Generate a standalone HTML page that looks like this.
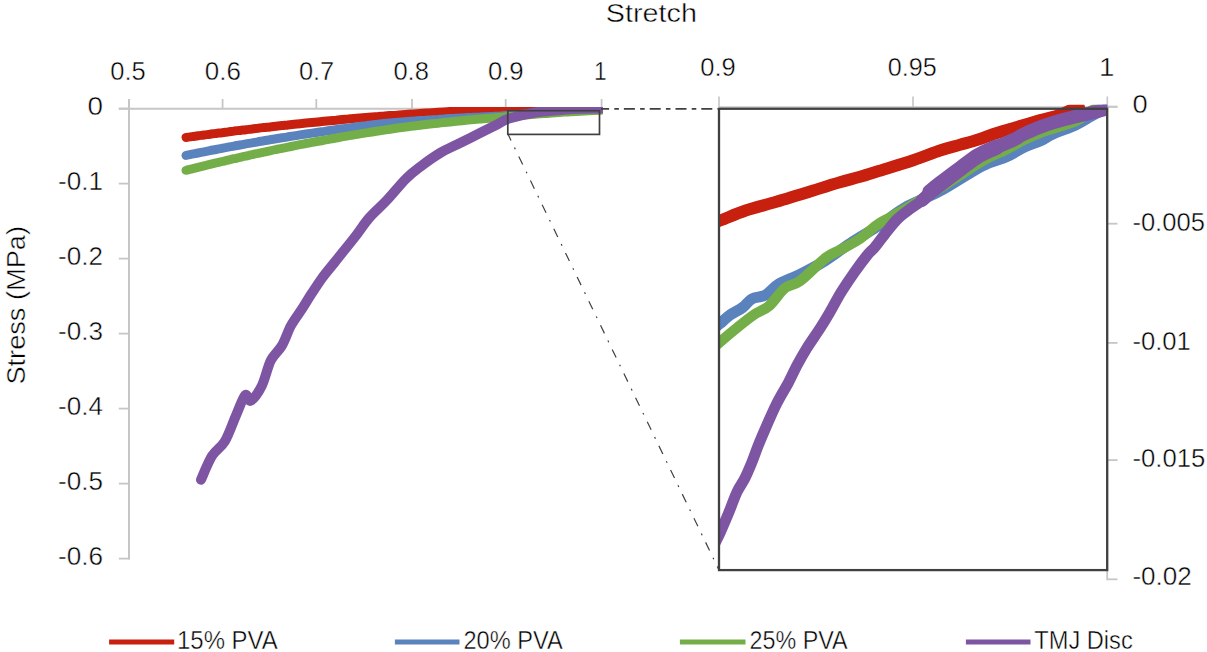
<!DOCTYPE html>
<html><head><meta charset="utf-8"><style>
html,body{margin:0;padding:0;background:#fff;width:1207px;height:652px;overflow:hidden}
svg{display:block}
text{font-family:"Liberation Sans",sans-serif;fill:#000000;stroke:#fff;stroke-width:0.45px}
</style></head><body>
<svg width="1207" height="652" viewBox="0 0 1207 652">
<line x1="118.8" y1="108.7" x2="602.5" y2="108.7" stroke="#C6C6C6" stroke-width="2"/>
<line x1="129.0" y1="99" x2="129.0" y2="559.6" stroke="#C6C6C6" stroke-width="2"/>
<line x1="129.0" y1="99" x2="129.0" y2="108.7" stroke="#C6C6C6" stroke-width="1.8"/>
<line x1="222.6" y1="99" x2="222.6" y2="108.7" stroke="#C6C6C6" stroke-width="1.8"/>
<line x1="316.3" y1="99" x2="316.3" y2="108.7" stroke="#C6C6C6" stroke-width="1.8"/>
<line x1="412.0" y1="99" x2="412.0" y2="108.7" stroke="#C6C6C6" stroke-width="1.8"/>
<line x1="505.7" y1="99" x2="505.7" y2="108.7" stroke="#C6C6C6" stroke-width="1.8"/>
<line x1="601.6" y1="99" x2="601.6" y2="108.7" stroke="#C6C6C6" stroke-width="1.8"/>
<line x1="118.8" y1="108.6" x2="129.0" y2="108.6" stroke="#C6C6C6" stroke-width="1.8"/>
<line x1="118.8" y1="183.6" x2="129.0" y2="183.6" stroke="#C6C6C6" stroke-width="1.8"/>
<line x1="118.8" y1="258.6" x2="129.0" y2="258.6" stroke="#C6C6C6" stroke-width="1.8"/>
<line x1="118.8" y1="333.6" x2="129.0" y2="333.6" stroke="#C6C6C6" stroke-width="1.8"/>
<line x1="118.8" y1="408.6" x2="129.0" y2="408.6" stroke="#C6C6C6" stroke-width="1.8"/>
<line x1="118.8" y1="483.6" x2="129.0" y2="483.6" stroke="#C6C6C6" stroke-width="1.8"/>
<line x1="118.8" y1="558.6" x2="129.0" y2="558.6" stroke="#C6C6C6" stroke-width="1.8"/>
<line x1="719" y1="107.0" x2="1117.5" y2="107.0" stroke="#C6C6C6" stroke-width="1.6"/>
<line x1="1107.2" y1="107.0" x2="1107.2" y2="580.1999999999999" stroke="#C6C6C6" stroke-width="1.8"/>
<line x1="719.0" y1="96.5" x2="719.0" y2="107.0" stroke="#C6C6C6" stroke-width="1.6"/>
<line x1="913.0" y1="96.5" x2="913.0" y2="107.0" stroke="#C6C6C6" stroke-width="1.6"/>
<line x1="1107.3" y1="96.5" x2="1107.3" y2="107.0" stroke="#C6C6C6" stroke-width="1.6"/>
<line x1="1107.2" y1="106.6" x2="1117.5" y2="106.6" stroke="#C6C6C6" stroke-width="1.8"/>
<line x1="1107.2" y1="223.7" x2="1117.5" y2="223.7" stroke="#C6C6C6" stroke-width="1.8"/>
<line x1="1107.2" y1="342.9" x2="1117.5" y2="342.9" stroke="#C6C6C6" stroke-width="1.8"/>
<line x1="1107.2" y1="460.1" x2="1117.5" y2="460.1" stroke="#C6C6C6" stroke-width="1.8"/>
<line x1="1107.2" y1="579.3" x2="1117.5" y2="579.3" stroke="#C6C6C6" stroke-width="1.8"/>
<defs><clipPath id="cl"><rect x="120" y="107" width="483" height="460"/></clipPath><clipPath id="cr"><rect x="719" y="104.8" width="388.2" height="466"/></clipPath></defs>
<g clip-path="url(#cl)">
<path d="M186.0,137.4 C187.0,137.3 190.0,136.9 192.0,136.6 C194.0,136.3 196.0,136.1 198.0,135.8 C200.0,135.5 202.0,135.3 204.0,135.0 C206.0,134.7 208.0,134.5 210.0,134.2 C212.0,133.9 214.0,133.7 216.0,133.4 C218.0,133.2 220.0,132.9 222.0,132.7 C224.0,132.4 226.0,132.1 228.0,131.9 C230.0,131.6 232.0,131.4 234.0,131.1 C236.0,130.9 238.0,130.7 240.0,130.4 C242.0,130.2 244.0,129.9 246.0,129.7 C248.0,129.5 250.0,129.2 252.0,129.0 C254.0,128.7 256.0,128.5 258.0,128.3 C260.0,128.0 262.0,127.8 264.0,127.6 C266.0,127.4 268.0,127.1 270.0,126.9 C272.0,126.7 274.0,126.5 276.0,126.2 C278.0,126.0 280.0,125.8 282.0,125.6 C284.0,125.4 286.0,125.1 288.0,124.9 C290.0,124.7 292.0,124.5 294.0,124.3 C296.0,124.1 298.0,123.9 300.0,123.7 C302.0,123.5 304.0,123.3 306.0,123.1 C308.0,122.9 310.0,122.7 312.0,122.5 C314.0,122.3 316.0,122.1 318.0,121.9 C320.0,121.7 322.0,121.5 324.0,121.3 C326.0,121.1 328.0,120.9 330.0,120.7 C332.0,120.5 334.0,120.3 336.0,120.2 C338.0,120.0 340.0,119.8 342.0,119.6 C344.0,119.4 346.0,119.2 348.0,119.1 C350.0,118.9 352.0,118.7 354.0,118.5 C356.0,118.4 358.0,118.2 360.0,118.0 C362.0,117.9 364.0,117.7 366.0,117.5 C368.0,117.4 370.0,117.2 372.0,117.0 C374.0,116.9 376.0,116.7 378.0,116.6 C380.0,116.4 382.0,116.2 384.0,116.1 C386.0,115.9 388.0,115.8 390.0,115.6 C392.0,115.5 394.0,115.3 396.0,115.2 C398.0,115.0 400.0,114.9 402.0,114.7 C404.0,114.6 406.0,114.5 408.0,114.3 C410.0,114.2 412.0,114.0 414.0,113.9 C416.0,113.8 418.0,113.6 420.0,113.5 C422.0,113.4 424.0,113.2 426.0,113.1 C428.0,113.0 430.0,112.8 432.0,112.7 C434.0,112.6 436.0,112.5 438.0,112.3 C440.0,112.2 442.0,112.1 444.0,112.0 C446.0,111.9 448.0,111.7 450.0,111.6 C452.0,111.5 454.0,111.4 456.0,111.3 C458.0,111.2 460.0,111.1 462.0,111.0 C464.0,110.9 466.0,110.8 468.0,110.7 C470.0,110.5 472.0,110.4 474.0,110.3 C476.0,110.2 478.0,110.1 480.0,110.1 C482.0,110.0 484.0,109.9 486.0,109.8 C488.0,109.7 490.0,109.6 492.0,109.5 C494.0,109.4 496.0,109.3 498.0,109.2 C500.0,109.1 502.0,109.1 504.0,109.0 C506.0,108.9 508.0,108.8 510.0,108.7 C512.0,108.7 514.0,108.6 516.0,108.5 C518.0,108.4 520.0,108.4 522.0,108.3 C524.0,108.2 526.0,108.2 528.0,108.1 C530.0,108.0 532.0,108.0 534.0,107.9 C536.0,107.8 538.0,107.8 540.0,107.7 C542.0,107.7 544.0,107.6 546.0,107.5 C548.0,107.5 550.0,107.4 552.0,107.4 C554.0,107.3 556.0,107.3 558.0,107.2 C560.0,107.2 562.0,107.1 564.0,107.1 C566.0,107.0 568.0,107.0 570.0,107.0 C572.0,106.9 574.0,106.9 576.0,106.8 C578.0,106.8 580.0,106.8 582.0,106.7 C584.0,106.7 586.0,106.7 588.0,106.6 C590.0,106.6 592.0,106.6 594.0,106.5 C596.0,106.5 598.8,106.5 600.0,106.5 C601.2,106.5 600.8,106.5 601.0,106.5" fill="none" stroke="#C8200E" stroke-width="9" stroke-linejoin="round" stroke-linecap="round"/>
<path d="M186.0,155.4 C187.0,155.2 190.0,154.6 192.0,154.2 C194.0,153.8 196.0,153.4 198.0,153.0 C200.0,152.6 202.0,152.2 204.0,151.8 C206.0,151.4 208.0,151.0 210.0,150.6 C212.0,150.2 214.0,149.9 216.0,149.5 C218.0,149.1 220.0,148.7 222.0,148.3 C224.0,148.0 226.0,147.6 228.0,147.2 C230.0,146.8 232.0,146.5 234.0,146.1 C236.0,145.7 238.0,145.4 240.0,145.0 C242.0,144.7 244.0,144.3 246.0,143.9 C248.0,143.6 250.0,143.2 252.0,142.9 C254.0,142.5 256.0,142.2 258.0,141.8 C260.0,141.5 262.0,141.1 264.0,140.8 C266.0,140.5 268.0,140.1 270.0,139.8 C272.0,139.5 274.0,139.1 276.0,138.8 C278.0,138.5 280.0,138.1 282.0,137.8 C284.0,137.5 286.0,137.2 288.0,136.8 C290.0,136.5 292.0,136.2 294.0,135.9 C296.0,135.6 298.0,135.3 300.0,134.9 C302.0,134.6 304.0,134.3 306.0,134.0 C308.0,133.7 310.0,133.4 312.0,133.1 C314.0,132.8 316.0,132.5 318.0,132.2 C320.0,131.9 322.0,131.6 324.0,131.4 C326.0,131.1 328.0,130.8 330.0,130.5 C332.0,130.2 334.0,129.9 336.0,129.6 C338.0,129.4 340.0,129.1 342.0,128.8 C344.0,128.5 346.0,128.3 348.0,128.0 C350.0,127.7 352.0,127.5 354.0,127.2 C356.0,126.9 358.0,126.7 360.0,126.4 C362.0,126.2 364.0,125.9 366.0,125.7 C368.0,125.4 370.0,125.2 372.0,124.9 C374.0,124.7 376.0,124.4 378.0,124.2 C380.0,124.0 382.0,123.8 384.0,123.6 C386.0,123.4 388.0,123.2 390.0,123.0 C392.0,122.9 394.0,122.7 396.0,122.5 C398.0,122.4 400.0,122.2 402.0,122.0 C404.0,121.9 406.0,121.7 408.0,121.5 C410.0,121.4 412.0,121.2 414.0,121.1 C416.0,120.9 418.0,120.8 420.0,120.6 C422.0,120.5 424.0,120.3 426.0,120.2 C428.0,120.0 430.0,119.9 432.0,119.8 C434.0,119.6 436.0,119.5 438.0,119.4 C440.0,119.2 442.0,119.1 444.0,119.0 C446.0,118.8 448.0,118.7 450.0,118.6 C452.0,118.5 454.0,118.4 456.0,118.2 C458.0,118.1 460.0,118.0 462.0,117.9 C464.0,117.8 466.0,117.7 468.0,117.6 C470.0,117.5 472.0,117.4 474.0,117.2 C476.0,117.1 478.0,117.0 480.0,117.0 C482.0,116.9 484.0,116.8 486.0,116.7 C488.0,116.6 490.0,116.5 492.0,116.4 C494.0,116.3 496.0,116.3 498.0,116.2 C500.0,116.0 502.0,115.9 504.0,115.7 C506.0,115.6 508.0,115.4 510.0,115.3 C512.0,115.1 514.0,114.9 516.0,114.8 C518.0,114.6 520.0,114.5 522.0,114.3 C524.0,114.2 526.0,114.0 528.0,113.9 C530.0,113.8 532.0,113.6 534.0,113.5 C536.0,113.3 538.0,113.2 540.0,113.1 C542.0,112.9 544.0,112.8 546.0,112.7 C548.0,112.5 550.0,112.4 552.0,112.3 C554.0,112.2 556.0,112.1 558.0,111.9 C560.0,111.8 562.0,111.7 564.0,111.6 C566.0,111.5 568.0,111.4 570.0,111.3 C572.0,111.2 574.0,111.1 576.0,111.0 C578.0,110.9 580.0,110.8 582.0,110.7 C584.0,110.6 586.0,110.5 588.0,110.4 C590.0,110.3 592.0,110.2 594.0,110.1 C596.0,110.0 598.8,109.9 600.0,109.9 C601.2,109.8 600.8,109.8 601.0,109.8" fill="none" stroke="#5A82BC" stroke-width="9" stroke-linejoin="round" stroke-linecap="round"/>
<path d="M186.0,170.3 C187.0,170.1 190.0,169.3 192.0,168.8 C194.0,168.3 196.0,167.8 198.0,167.3 C200.0,166.8 202.0,166.3 204.0,165.8 C206.0,165.3 208.0,164.9 210.0,164.4 C212.0,163.9 214.0,163.4 216.0,162.9 C218.0,162.5 220.0,162.0 222.0,161.5 C224.0,161.0 226.0,160.6 228.0,160.1 C230.0,159.6 232.0,159.2 234.0,158.7 C236.0,158.3 238.0,157.8 240.0,157.4 C242.0,156.9 244.0,156.5 246.0,156.0 C248.0,155.6 250.0,155.1 252.0,154.7 C254.0,154.2 256.0,153.8 258.0,153.4 C260.0,152.9 262.0,152.5 264.0,152.1 C266.0,151.6 268.0,151.2 270.0,150.8 C272.0,150.4 274.0,150.0 276.0,149.5 C278.0,149.1 280.0,148.7 282.0,148.3 C284.0,147.9 286.0,147.5 288.0,147.1 C290.0,146.7 292.0,146.3 294.0,145.9 C296.0,145.5 298.0,145.1 300.0,144.7 C302.0,144.3 304.0,143.9 306.0,143.5 C308.0,143.2 310.0,142.8 312.0,142.4 C314.0,142.0 316.0,141.6 318.0,141.3 C320.0,140.9 322.0,140.5 324.0,140.2 C326.0,139.8 328.0,139.4 330.0,139.1 C332.0,138.7 334.0,138.3 336.0,138.0 C338.0,137.6 340.0,137.3 342.0,136.9 C344.0,136.6 346.0,136.2 348.0,135.9 C350.0,135.6 352.0,135.2 354.0,134.9 C356.0,134.6 358.0,134.2 360.0,133.9 C362.0,133.6 364.0,133.2 366.0,132.9 C368.0,132.6 370.0,132.3 372.0,132.0 C374.0,131.6 376.0,131.3 378.0,131.0 C380.0,130.7 382.0,130.4 384.0,130.1 C386.0,129.8 388.0,129.5 390.0,129.2 C392.0,128.9 394.0,128.6 396.0,128.3 C398.0,128.0 400.0,127.7 402.0,127.5 C404.0,127.2 406.0,126.9 408.0,126.7 C410.0,126.4 412.0,126.2 414.0,125.9 C416.0,125.7 418.0,125.5 420.0,125.2 C422.0,125.0 424.0,124.8 426.0,124.5 C428.0,124.3 430.0,124.1 432.0,123.8 C434.0,123.6 436.0,123.4 438.0,123.2 C440.0,122.9 442.0,122.7 444.0,122.5 C446.0,122.3 448.0,122.1 450.0,121.9 C452.0,121.7 454.0,121.5 456.0,121.3 C458.0,121.1 460.0,120.9 462.0,120.7 C464.0,120.5 466.0,120.3 468.0,120.1 C470.0,119.9 472.0,119.7 474.0,119.5 C476.0,119.4 478.0,119.2 480.0,119.0 C482.0,118.8 484.0,118.7 486.0,118.5 C488.0,118.3 490.0,118.1 492.0,118.0 C494.0,117.8 496.0,117.7 498.0,117.5 C500.0,117.3 502.0,117.1 504.0,117.0 C506.0,116.8 508.0,116.6 510.0,116.4 C512.0,116.2 514.0,116.0 516.0,115.8 C518.0,115.7 520.0,115.5 522.0,115.3 C524.0,115.1 526.0,115.0 528.0,114.8 C530.0,114.6 532.0,114.5 534.0,114.3 C536.0,114.1 538.0,114.0 540.0,113.8 C542.0,113.7 544.0,113.5 546.0,113.4 C548.0,113.2 550.0,113.1 552.0,112.9 C554.0,112.8 556.0,112.7 558.0,112.5 C560.0,112.4 562.0,112.2 564.0,112.1 C566.0,112.0 568.0,111.9 570.0,111.7 C572.0,111.6 574.0,111.5 576.0,111.4 C578.0,111.3 580.0,111.1 582.0,111.0 C584.0,110.9 586.0,110.8 588.0,110.7 C590.0,110.6 592.0,110.5 594.0,110.4 C596.0,110.3 598.8,110.2 600.0,110.1 C601.2,110.0 600.8,110.1 601.0,110.1" fill="none" stroke="#74AE48" stroke-width="9" stroke-linejoin="round" stroke-linecap="round"/>
<path d="M201.0,479.8 C202.8,475.8 208.0,462.3 212.0,455.9 C216.0,449.5 220.9,447.9 224.9,441.2 C228.9,434.4 232.6,423.1 236.0,415.4 C239.4,407.7 242.7,397.6 245.1,395.2 C247.5,392.8 247.9,402.2 250.7,400.7 C253.5,399.2 258.3,392.7 261.7,386.0 C265.1,379.3 267.5,367.0 270.9,360.3 C274.3,353.6 278.5,351.4 281.9,345.6 C285.3,339.8 287.7,331.5 291.1,325.4 C294.5,319.3 298.7,314.0 302.1,308.8 C305.5,303.6 307.9,299.3 311.3,294.1 C314.7,288.9 318.5,283.0 322.4,277.6 C326.3,272.2 329.5,268.7 334.9,262.0 C340.2,255.3 348.8,244.8 354.5,237.5 C360.2,230.2 363.9,224.0 369.2,217.9 C374.5,211.8 380.3,207.2 386.4,200.7 C392.5,194.2 400.3,184.4 406.0,178.7 C411.7,173.0 415.0,170.7 420.7,166.4 C426.4,162.1 434.2,156.6 440.3,152.9 C446.4,149.2 451.4,147.4 457.5,144.3 C463.6,141.2 470.6,137.8 477.1,134.5 C483.6,131.2 491.4,127.4 496.7,124.7 C502.0,122.0 502.6,120.6 509.0,118.6 C515.4,116.6 527.5,113.8 535.0,112.5 C542.5,111.2 547.7,111.1 554.0,110.5 C560.3,109.9 565.2,109.3 573.0,109.0 C580.8,108.7 596.3,108.6 601.0,108.5" fill="none" stroke="#7E55A3" stroke-width="10" stroke-linejoin="round" stroke-linecap="round"/>
</g>
<g clip-path="url(#cr)">
<path d="M712.0,223.0 C713.5,222.5 715.4,222.3 721.0,220.2 C726.6,218.1 736.5,213.6 745.7,210.5 C754.9,207.4 765.0,205.1 776.3,201.8 C787.5,198.5 802.6,193.8 813.2,190.5 C823.8,187.2 832.0,184.6 840.0,182.3 C848.0,180.0 854.8,178.3 861.0,176.5 C867.2,174.7 868.3,174.2 877.0,171.5 C885.7,168.8 902.7,163.8 913.2,160.3 C923.7,156.8 932.2,153.1 940.0,150.5 C947.8,147.9 953.6,146.6 960.0,144.8 C966.4,143.0 972.3,141.5 978.4,139.5 C984.5,137.5 990.7,135.0 996.8,133.0 C1002.9,131.0 1009.1,129.3 1015.2,127.5 C1021.4,125.7 1026.6,124.0 1033.7,122.0 C1040.8,120.0 1051.8,117.5 1058.0,115.5 C1064.2,113.5 1067.5,111.3 1071.0,110.0 C1074.5,108.7 1077.7,107.9 1079.0,107.5" fill="none" stroke="#C8200E" stroke-width="12" stroke-linejoin="round" stroke-linecap="round"/>
<path d="M712.0,330.0 C713.3,328.9 717.0,326.1 720.0,323.6 C723.0,321.1 726.2,317.7 730.0,315.0 C733.8,312.3 739.0,310.2 742.6,307.5 C746.2,304.8 748.0,301.1 751.8,299.0 C755.6,296.9 761.1,297.5 765.6,295.0 C770.1,292.5 772.9,287.5 778.8,284.0 C784.7,280.5 793.1,277.9 800.9,274.0 C808.7,270.1 817.2,265.6 825.4,260.5 C833.6,255.4 840.8,249.5 850.0,243.5 C859.2,237.5 871.5,230.5 880.7,224.5 C889.9,218.5 895.3,213.1 905.2,207.5 C915.1,201.9 927.2,197.9 940.0,191.0 C952.8,184.1 971.0,171.7 982.0,166.0 C993.0,160.3 998.9,160.2 1006.0,157.0 C1013.1,153.8 1018.8,149.7 1024.5,147.0 C1030.2,144.3 1035.2,143.2 1040.0,141.0 C1044.8,138.8 1047.0,136.7 1053.0,134.0 C1059.0,131.3 1069.7,127.8 1076.0,124.8 C1082.3,121.8 1086.2,119.0 1091.0,116.3 C1095.8,113.6 1101.8,110.4 1105.0,108.7 C1108.2,107.0 1109.2,106.5 1110.0,106.0" fill="none" stroke="#5A82BC" stroke-width="11" stroke-linejoin="round" stroke-linecap="round"/>
<path d="M712.0,349.0 C713.3,347.8 715.7,345.7 720.0,342.0 C724.3,338.3 732.2,331.7 738.0,327.0 C743.8,322.3 749.8,317.5 755.0,314.0 C760.2,310.5 764.0,310.3 769.0,306.0 C774.0,301.7 779.8,292.2 785.0,288.0 C790.2,283.8 793.2,286.0 800.0,281.0 C806.8,276.0 818.8,263.2 825.5,258.0 C832.2,252.8 834.6,253.0 840.0,250.0 C845.4,247.0 851.8,244.2 858.0,240.0 C864.2,235.8 871.7,228.8 877.0,225.0 C882.3,221.2 885.0,220.3 890.0,217.5 C895.0,214.7 898.7,212.9 907.0,208.0 C915.3,203.1 928.8,195.0 940.0,188.0 C951.2,181.0 966.1,171.0 974.0,166.0 C981.9,161.0 982.3,160.8 987.6,158.0 C992.9,155.2 999.9,152.6 1006.0,149.5 C1012.1,146.4 1019.1,142.2 1024.5,139.5 C1029.9,136.8 1033.5,135.3 1038.3,133.5 C1043.0,131.7 1046.7,130.6 1053.0,128.5 C1059.3,126.4 1070.2,123.6 1076.0,121.0 C1081.8,118.4 1084.7,115.2 1088.0,113.0 C1091.3,110.8 1094.7,108.8 1096.0,108.0" fill="none" stroke="#74AE48" stroke-width="10.5" stroke-linejoin="round" stroke-linecap="round"/>
<path d="M712.0,549.0 C713.3,546.3 717.2,539.2 720.0,533.0 C722.8,526.8 726.2,518.8 729.0,512.0 C731.8,505.2 734.3,497.7 737.0,492.0 C739.7,486.3 742.5,483.0 745.0,478.0 C747.5,473.0 749.8,467.3 752.0,462.0 C754.2,456.7 755.8,451.6 758.0,446.0 C760.2,440.4 762.2,435.8 765.3,428.7 C768.4,421.6 773.0,411.0 776.8,403.4 C780.6,395.8 784.8,389.3 788.3,382.8 C791.8,376.3 794.4,370.1 797.5,364.4 C800.6,358.6 802.9,354.4 806.7,348.3 C810.5,342.2 816.6,333.7 820.5,327.6 C824.4,321.6 826.5,318.0 830.0,312.0 C833.5,306.0 837.4,298.3 841.5,291.7 C845.6,285.1 850.1,278.4 854.4,272.3 C858.7,266.2 863.8,259.4 867.2,255.2 C870.6,251.0 872.0,250.5 875.0,247.0 C878.0,243.5 881.3,238.6 885.0,234.0 C888.7,229.4 892.8,223.7 897.0,219.5 C901.2,215.3 905.8,212.2 910.0,209.0 C914.2,205.8 917.0,204.7 922.0,200.5 C927.0,196.3 933.7,189.2 940.0,184.0 C946.3,178.8 953.6,173.7 960.0,169.0 C966.4,164.3 972.3,159.3 978.4,155.6 C984.5,151.9 990.7,149.8 996.8,147.0 C1002.9,144.2 1011.0,141.0 1015.2,139.0 C1019.4,137.0 1018.2,136.8 1022.0,135.0 C1025.8,133.2 1032.5,130.1 1037.7,128.0 C1042.9,125.9 1046.6,124.5 1053.0,122.6 C1059.4,120.7 1068.3,118.4 1076.0,116.5 C1083.7,114.6 1093.3,112.4 1099.0,111.0 C1104.7,109.6 1108.2,108.5 1110.0,108.0" fill="none" stroke="#7E55A3" stroke-width="11" stroke-linejoin="round" stroke-linecap="round"/>
<path d="M922.0,200.5 C925.0,197.8 933.7,189.2 940.0,184.0 C946.3,178.8 953.6,173.7 960.0,169.0 C966.4,164.3 972.3,159.3 978.4,155.6 C984.5,151.9 990.7,149.8 996.8,147.0 C1002.9,144.2 1012.1,140.3 1015.2,139.0" fill="none" stroke="#7E55A3" stroke-width="13" stroke-linejoin="round" stroke-linecap="round"/>
<path d="M930.0,192.0 C931.7,190.7 935.0,187.8 940.0,184.0 C945.0,180.2 953.6,173.7 960.0,169.0 C966.4,164.3 972.3,159.3 978.4,155.6 C984.5,151.9 993.7,148.4 996.8,147.0" fill="none" stroke="#7E55A3" stroke-width="15.5" stroke-linejoin="round" stroke-linecap="round"/>
<path d="M996.8,147.0 C999.9,145.7 1011.0,141.0 1015.2,139.0 C1019.4,137.0 1018.2,136.8 1022.0,135.0 C1025.8,133.2 1032.5,130.1 1037.7,128.0 C1042.9,125.9 1046.6,124.5 1053.0,122.6 C1059.4,120.7 1068.3,118.4 1076.0,116.5 C1083.7,114.6 1093.3,112.4 1099.0,111.0 C1104.7,109.6 1108.2,108.5 1110.0,108.0" fill="none" stroke="#7E55A3" stroke-width="13.5" stroke-linejoin="round" stroke-linecap="round"/>
</g>
<rect x="719" y="108.75" width="388.2" height="461.35" fill="none" stroke="#404040" stroke-width="2.3"/>
<rect x="507.8" y="110.7" width="91.7" height="23.7" fill="none" stroke="#404040" stroke-width="1.7"/>
<line x1="601" y1="108.9" x2="719" y2="108.9" stroke="#404040" stroke-width="1.9" stroke-dasharray="11 5.2 4.6 5" stroke-dashoffset="2.9"/>
<line x1="508.4" y1="135" x2="719" y2="570" stroke="#404040" stroke-width="1.2" stroke-dasharray="9 8 1.8 8" stroke-dashoffset="3"/>
<text x="605.80" y="22.40" font-size="25" textLength="91.10" lengthAdjust="spacingAndGlyphs" >Stretch</text>
<text x="110.30" y="79.60" font-size="25" textLength="35.50" lengthAdjust="spacingAndGlyphs" >0.5</text>
<text x="204.80" y="79.60" font-size="25" textLength="36.10" lengthAdjust="spacingAndGlyphs" >0.6</text>
<text x="298.90" y="79.60" font-size="25" textLength="35.30" lengthAdjust="spacingAndGlyphs" >0.7</text>
<text x="393.40" y="79.60" font-size="25" textLength="35.50" lengthAdjust="spacingAndGlyphs" >0.8</text>
<text x="487.90" y="79.60" font-size="25" textLength="35.80" lengthAdjust="spacingAndGlyphs" >0.9</text>
<text x="594.00" y="79.60" font-size="25" textLength="12.70" lengthAdjust="spacingAndGlyphs" >1</text>
<text x="700.30" y="76.40" font-size="25" textLength="35.50" lengthAdjust="spacingAndGlyphs" >0.9</text>
<text x="887.80" y="76.40" font-size="25" textLength="49.00" lengthAdjust="spacingAndGlyphs" >0.95</text>
<text x="1099.00" y="76.40" font-size="25" textLength="15.40" lengthAdjust="spacingAndGlyphs" >1</text>
<text x="87.50" y="114.80" font-size="25" textLength="15.50" lengthAdjust="spacingAndGlyphs" >0</text>
<text x="58.00" y="189.80" font-size="25" textLength="45.00" lengthAdjust="spacingAndGlyphs" >-0.1</text>
<text x="58.00" y="264.80" font-size="25" textLength="45.00" lengthAdjust="spacingAndGlyphs" >-0.2</text>
<text x="58.00" y="339.80" font-size="25" textLength="45.00" lengthAdjust="spacingAndGlyphs" >-0.3</text>
<text x="58.00" y="414.80" font-size="25" textLength="45.00" lengthAdjust="spacingAndGlyphs" >-0.4</text>
<text x="58.00" y="489.80" font-size="25" textLength="45.00" lengthAdjust="spacingAndGlyphs" >-0.5</text>
<text x="58.00" y="564.80" font-size="25" textLength="45.00" lengthAdjust="spacingAndGlyphs" >-0.6</text>
<text x="1132.40" y="113.00" font-size="25" textLength="15.20" lengthAdjust="spacingAndGlyphs" >0</text>
<text x="1132.40" y="231.30" font-size="25" textLength="72.50" lengthAdjust="spacingAndGlyphs" >-0.005</text>
<text x="1132.40" y="349.60" font-size="25" textLength="58.50" lengthAdjust="spacingAndGlyphs" >-0.01</text>
<text x="1132.40" y="466.90" font-size="25" textLength="72.90" lengthAdjust="spacingAndGlyphs" >-0.015</text>
<text x="1132.40" y="585.20" font-size="25" textLength="59.50" lengthAdjust="spacingAndGlyphs" >-0.02</text>
<text transform="translate(25.30,384.60) rotate(-90)" x="0" y="0" font-size="26" textLength="158.60" lengthAdjust="spacingAndGlyphs">Stress (MPa)</text>
<line x1="109.1" y1="642" x2="174.2" y2="642" stroke="#C8200E" stroke-width="5"/>
<text x="177.00" y="648.80" font-size="25" textLength="100.70" lengthAdjust="spacingAndGlyphs" >15% PVA</text>
<line x1="394.9" y1="642" x2="459.5" y2="642" stroke="#5A82BC" stroke-width="5"/>
<text x="463.50" y="648.80" font-size="25" textLength="99.20" lengthAdjust="spacingAndGlyphs" >20% PVA</text>
<line x1="679.9" y1="642" x2="745.5" y2="642" stroke="#74AE48" stroke-width="5"/>
<text x="749.50" y="648.80" font-size="25" textLength="98.20" lengthAdjust="spacingAndGlyphs" >25% PVA</text>
<line x1="965.9" y1="642" x2="1030.5" y2="642" stroke="#7E55A3" stroke-width="5"/>
<text x="1034.30" y="648.80" font-size="25" textLength="98.40" lengthAdjust="spacingAndGlyphs" >TMJ Disc</text>
</svg>
</body></html>
